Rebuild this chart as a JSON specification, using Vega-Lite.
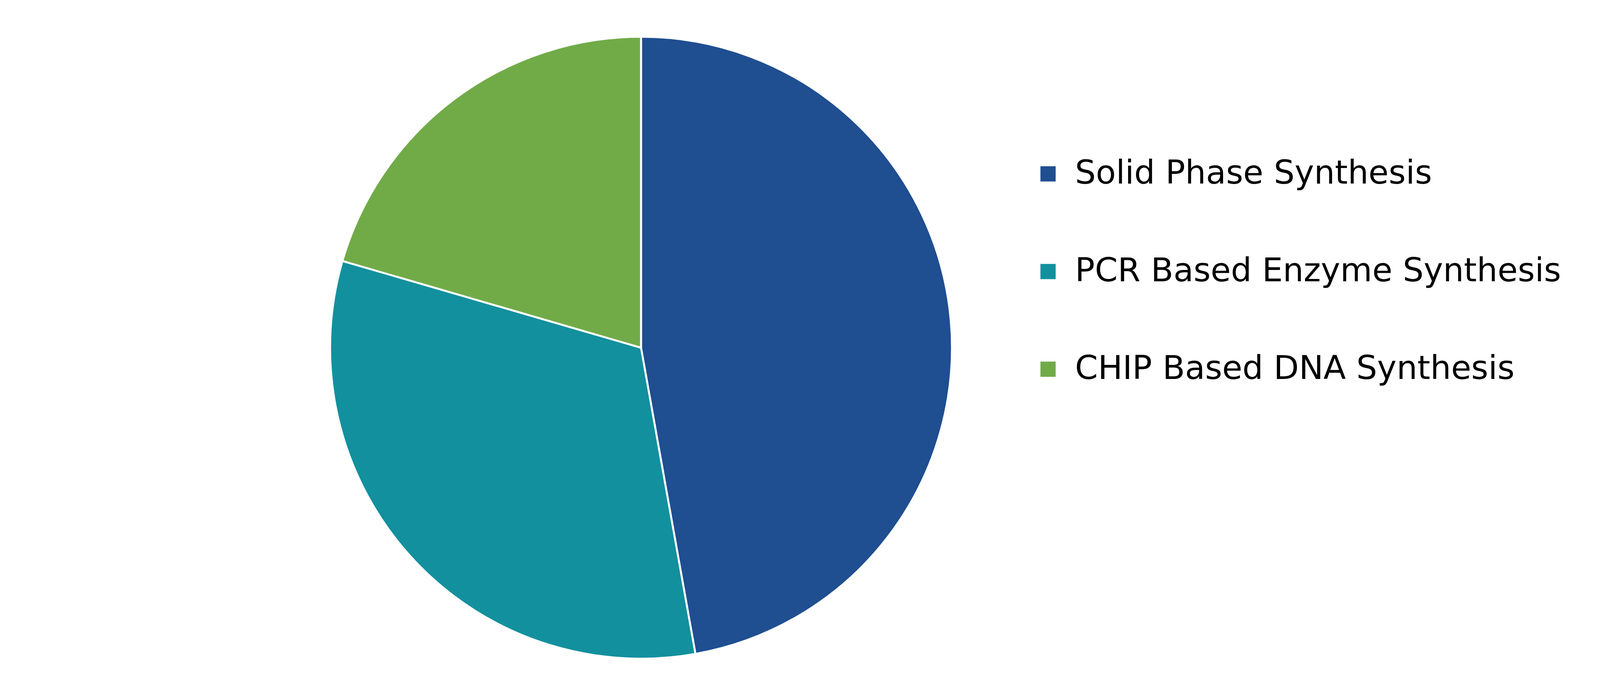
{
  "$schema": "https://vega.github.io/schema/vega-lite/v6.json",
  "width": 3282,
  "height": 1780,
  "autosize": {"type": "none"},
  "padding": {"left": 0, "top": 0, "right": 1025, "bottom": 4},
  "background": "white",
  "data": {
    "values": [
      {"segment": "Solid Phase Synthesis", "share": 47.2, "rank": 1},
      {"segment": "PCR Based Enzyme Synthesis", "share": 32.3, "rank": 2},
      {"segment": "CHIP Based DNA Synthesis", "share": 20.5, "rank": 3}
    ]
  },
  "mark": {"type": "arc", "radius": 796, "stroke": "white", "strokeWidth": 5},
  "encoding": {
    "theta": {"field": "share", "type": "quantitative", "stack": true},
    "order": {"field": "rank", "type": "quantitative"},
    "color": {
      "field": "segment",
      "type": "nominal",
      "sort": null,
      "scale": {
        "domain": ["Solid Phase Synthesis", "PCR Based Enzyme Synthesis", "CHIP Based DNA Synthesis"],
        "range": ["#1F4E91", "#12909E", "#71AB48"]
      },
      "legend": {
        "title": null,
        "orient": "none",
        "legendX": 2641,
        "legendY": 403,
        "padding": 0,
        "symbolType": "square",
        "symbolSize": 1521,
        "symbolStrokeWidth": 0,
        "labelFont": "DejaVu Sans",
        "labelFontSize": 84,
        "labelColor": "black",
        "labelOffset": 27,
        "labelLimit": 2000,
        "rowPadding": 166
      }
    }
  },
  "config": {"view": {"stroke": null}}
}
